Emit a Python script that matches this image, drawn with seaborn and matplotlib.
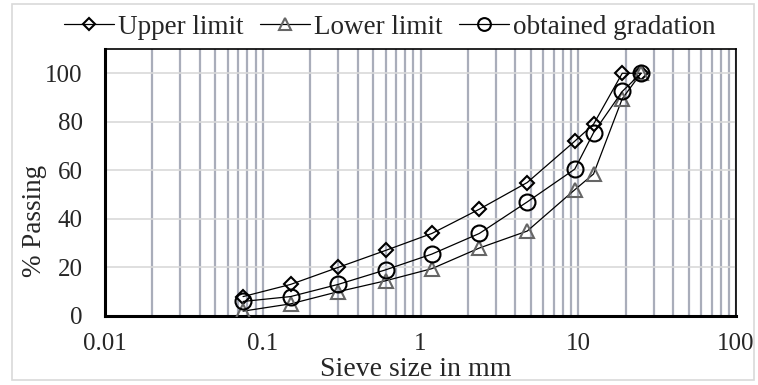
import numpy as np
import pandas as pd
import matplotlib
matplotlib.use("Agg")
import matplotlib.pyplot as plt
import seaborn as sns
from matplotlib.ticker import LogLocator, FixedLocator, FuncFormatter

sieve = [0.075, 0.15, 0.3, 0.6, 1.18, 2.36, 4.75, 9.5, 12.5, 19, 25]
upper = [8, 13, 20, 27, 34, 44, 55, 72, 79, 100, 100]
lower = [2, 5, 10, 14.5, 19.5, 28, 35, 52, 58.5, 89.5, 100]
obtained = [6, 8, 13, 19, 25.5, 34, 47, 60.5, 75.5, 92.5, 100]
series_names = ["Upper limit", "Lower limit", "obtained gradation"]
y_ticks = [0, 20, 40, 60, 80, 100]
x_ticks = [0.01, 0.1, 1, 10, 100]
x_tick_labels = ["0.01", "0.1", "1", "10", "100"]

sns.set_style("white")
plt.rcParams['font.family'] = ['Liberation Serif', 'DejaVu Serif']

df = pd.DataFrame({
    "sieve": sieve * 3,
    "passing": upper + lower + obtained,
    "series": [series_names[0]] * len(sieve) + [series_names[1]] * len(sieve) + [series_names[2]] * len(sieve),
})

fig = plt.figure(figsize=(7.58, 3.85), dpi=100)
ax = fig.add_axes([105 / 758, 1 - 316 / 385, (736 - 105) / 758, (316 - 49) / 385])

styles = {
    "Upper limit": dict(marker="D", ms=7.5, mec="black"),
    "Lower limit": dict(marker="^", ms=10, mec="#666666"),
    "obtained gradation": dict(marker="o", ms=11.5, mec="black"),
}
for name in series_names:
    sub = df[df["series"] == name]
    sns.lineplot(data=sub, x="sieve", y="passing", ax=ax, color="black", lw=0.9,
                 marker=styles[name]["marker"], markersize=styles[name]["ms"],
                 markerfacecolor="none", markeredgecolor=styles[name]["mec"],
                 markeredgewidth=1.5, label=name, zorder=3)

ax.set_xscale("log")
ax.set_xlim(0.01, 100)
ax.set_ylim(0, 110)
ax.yaxis.set_major_locator(FixedLocator(y_ticks))
ax.xaxis.set_major_locator(FixedLocator(x_ticks))
ax.xaxis.set_major_formatter(FuncFormatter(lambda v, p: x_tick_labels[x_ticks.index(v)] if v in x_ticks else ""))
ax.xaxis.set_minor_locator(LogLocator(base=10, subs=np.arange(2, 10)))
ax.xaxis.set_minor_formatter(FuncFormatter(lambda v, p: ""))

ax.grid(True, which="both", axis="x", color="#A9ADBA", lw=1.6, zorder=0)
ax.grid(True, which="major", axis="y", color="#D9D9D9", lw=1.2, zorder=0)
ax.set_axisbelow(True)
ax.tick_params(axis="both", which="both", length=0, labelsize=18)
ax.tick_params(axis="y", pad=16)
ax.tick_params(axis="x", pad=12)

for s in ["left", "bottom"]:
    ax.spines[s].set_linewidth(2.2)
    ax.spines[s].set_color("black")
for s in ["top", "right"]:
    ax.spines[s].set_linewidth(1.2)
    ax.spines[s].set_color("black")

ax.set_xlabel("Sieve size in mm", fontsize=20)
ax.set_ylabel("% Passing", fontsize=19.5)
ax.xaxis.set_label_coords(0.493, -0.202)
ax.xaxis.label.set_va("center")
ax.yaxis.set_label_coords(-0.1125, 0.356)
ax.yaxis.label.set_va("center")

handles, labels = ax.get_legend_handles_labels()
ax.legend_.remove()
fig.legend(handles, labels, loc="center", bbox_to_anchor=(390 / 758, 1 - 27 / 385), ncol=3,
           frameon=False, fontsize=19.5, handlelength=1.85, handletextpad=0.15,
           columnspacing=0.6, markerscale=0.8)

fig.patches.append(plt.Rectangle((12 / 758, 5 / 385), 742 / 758, 376 / 385,
                                 transform=fig.transFigure, fill=False,
                                 edgecolor="#D9D9D9", lw=1.2))

fig.savefig("out.png", dpi=100)
